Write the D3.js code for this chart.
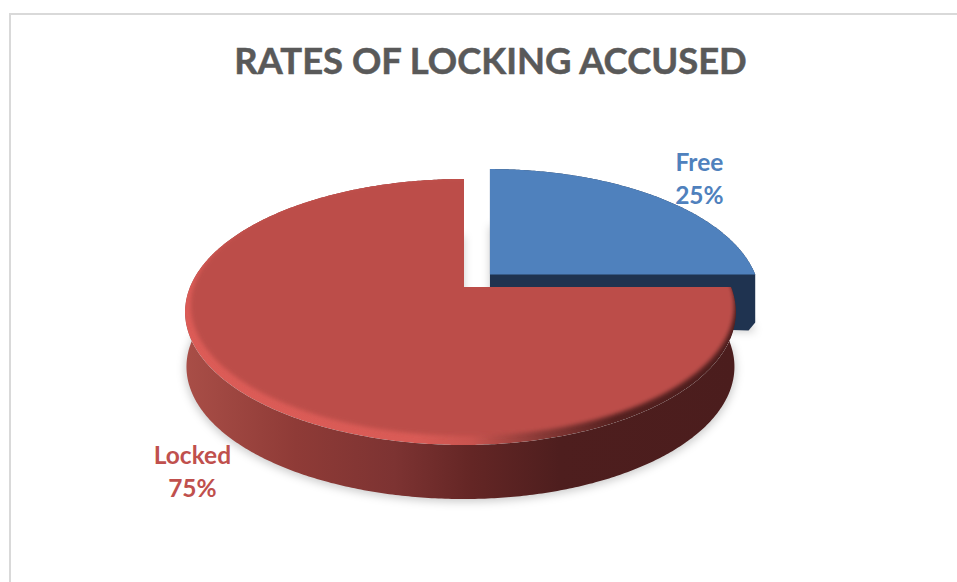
<!DOCTYPE html>
<html>
<head>
<meta charset="utf-8">
<script src="https://cdnjs.cloudflare.com/ajax/libs/d3/7.8.5/d3.min.js"></script>
<style>
  html, body { margin: 0; padding: 0; background: #fff; }
  svg { display: block; }
  text { font-family: Lato, Carlito, sans-serif; font-weight: 700; }
</style>
</head>
<body>
<div id="chart"></div>
<script>
const title = 'RATES OF LOCKING ACCUSED'
const categories = ['Free', 'Locked']
const values = [25, 75]
const explosion = [0.14, 0]

const width = 957
const height = 582

// perspective of the tilted disc: the back half is shorter than the front half
const cx = 464
const cy = 287
const radiusleft = 274
const radiusright = 267
const radiusy = 128.3
const tilt = 0.188
const depth = 54

const topcolors = ['#4f81bd', '#bc4e4a']
const labelcolors = ['#4f81bd', '#c0504d']
const labelnudge = [[40, -13], [5, 2]]
const slicescale = [1.012, 1]

// the apex sits right of the middle of the disc, so the two sides differ
const xscale = d3.scaleLinear().domain([-1, 0, 1]).range([cx - radiusleft, cx, cx + radiusright])
const yscale = d3.scaleLinear().domain([-1, 1]).range([cy + radiusy, cy - radiusy])

// u is measured from the slice apex, ox/oy move the apex itself
function project(u, v, z, ox, oy) {
  const apex = (ox || 0) / (1 + tilt * (oy || 0))
  const w = 1 + tilt * (v + (oy || 0))
  return [xscale(apex + u / w), yscale((v + (oy || 0)) / w) + (z || 0)]
}

const pie = d3.pie().sort(null).value(d => d)
const slices = pie(values).map((s, i) => {
  const mid = (s.startAngle + s.endAngle) / 2
  return {
    ...s,
    index: i,
    ox: Math.sin(mid) * explosion[i],
    oy: Math.cos(mid) * explosion[i],
    scale: slicescale[i]
  }
})

function angles(a0, a1) {
  const n = Math.ceil((a1 - a0) / 0.01)
  return d3.range(n + 1).map(i => a0 + (a1 - a0) * i / n)
}

function arcpoints(s, z, a0, a1, radius) {
  return angles(a0 === undefined ? s.startAngle : a0, a1 === undefined ? s.endAngle : a1)
    .map(a => {
      const r = (radius ? radius(a) : 1) * (s.scale || 1)
      return project(Math.sin(a) * r, Math.cos(a) * r, z, s.ox, s.oy)
    })
}

function outline(s, z) {
  return [project(0, 0, z, s.ox, s.oy)].concat(arcpoints(s, z))
}

const line = d3.line().curve(d3.curveLinear)
const closed = pts => line(pts) + 'Z'

const svg = d3.select('#chart').append('svg')
  .attr('width', width)
  .attr('height', height)

const defs = svg.append('defs')

function blur(id, sd) {
  defs.append('filter').attr('id', id)
    .attr('x', '-10%').attr('y', '-10%').attr('width', '120%').attr('height', '120%')
    .append('feGaussianBlur').attr('stdDeviation', sd)
}
blur('shadow', 4)
blur('soft', 1.9)

function gradient(id, stops) {
  const g = defs.append('linearGradient').attr('id', id)
    .attr('gradientUnits', 'userSpaceOnUse')
    .attr('x1', cx - radiusleft - 5).attr('x2', cx + radiusright + 5)
    .attr('y1', 0).attr('y2', 0)
  stops.forEach(d => g.append('stop').attr('offset', d[0]).attr('stop-color', d[1]))
}
gradient('redwall', [[0, '#a94e47'], [0.2, '#8f3b37'], [0.38, '#7d3332'], [0.52, '#642625'], [0.68, '#4e1e1e'], [1, '#4b1d1d']])
gradient('redrim', [[0, '#dc5c57'], [0.42, '#d95b56'], [0.52, '#c9544f'], [0.64, '#8a3a37'], [0.78, '#552120'], [1, '#4b1d1d']])

// chart frame, runs off the right and bottom of the picture
svg.append('path')
  .attr('d', line([[10, height + 5], [10, 14], [width + 5, 14]]))
  .attr('fill', 'none')
  .attr('stroke', '#d9d9d9')
  .attr('stroke-width', 2)

svg.append('text')
  .attr('x', 490.5)
  .attr('y', 74)
  .attr('text-anchor', 'middle')
  .attr('font-size', 36.4)
  .attr('fill', '#595959')
  .attr('stroke', '#595959')
  .attr('stroke-width', 0.5)
  .text(title)

// soft shadows under both slices
svg.append('g').attr('filter', 'url(#shadow)')
  .selectAll('path')
  .data(slices)
  .join('path')
  .attr('d', d => closed(outline(d, depth + 3)))
  .attr('fill', '#000')
  .attr('fill-opacity', 0.2)

// blue slice goes behind the red one
const free = slices[0]
const freehull = d3.polygonHull(
  outline(free, 0)
    .concat(outline(free, depth - 6))
    .concat(arcpoints(free, depth + 2, undefined, undefined, () => 0.975))
)
svg.append('path')
  .attr('d', closed(freehull))
  .attr('fill', '#1f3350')

svg.append('path')
  .attr('d', closed(outline(free, 0)))
  .attr('fill', topcolors[0])

// red wall, the part of it at the back stays hidden under the top face
const locked = slices[1]
const band = arcpoints(locked, 0)
  .concat(arcpoints(locked, depth + 1, undefined, undefined, () => 0.995).reverse())
svg.append('path')
  .attr('d', closed(band))
  .attr('fill', 'url(#redwall)')

defs.append('clipPath').attr('id', 'lockedtop')
  .append('path')
  .attr('d', closed(outline(locked, 0)))

const redtop = svg.append('g').attr('clip-path', 'url(#lockedtop)')

redtop.append('path')
  .attr('d', closed(outline(locked, 0)))
  .attr('fill', 'url(#redrim)')

// bevel: inner face pulled in along the front and left only, past the rim at the back
const bevel = a => 1.02 - 0.0567 * Math.max(0, -0.75 * Math.cos(a) - 0.13 * Math.sin(a) + 0.45)
redtop.append('path')
  .attr('d', closed(arcpoints({ ox: 0, oy: 0 }, 0, 0, Math.PI * 2, bevel)))
  .attr('fill', topcolors[1])
  .attr('filter', 'url(#soft)')

// data labels
const labels = svg.append('g')
  .selectAll('text')
  .data(slices)
  .join('text')
  .attr('text-anchor', 'middle')
  .attr('font-size', 24.5)
  .attr('fill', d => labelcolors[d.index])
  .attr('transform', d => {
    const mid = (d.startAngle + d.endAngle) / 2
    const p = project(Math.sin(mid) * 1.2, Math.cos(mid) * 1.2, d.index ? depth : 0)
    const n = labelnudge[d.index]
    return 'translate(' + (p[0] + n[0]) + ',' + (p[1] + n[1]) + ')'
  })

labels.append('tspan')
  .attr('x', 0)
  .attr('dy', -9)
  .text(d => categories[d.index])

labels.append('tspan')
  .attr('x', 0)
  .attr('dy', 33)
  .text(d => d3.format('.0f')(d.value) + '%')
</script>
</body>
</html>
